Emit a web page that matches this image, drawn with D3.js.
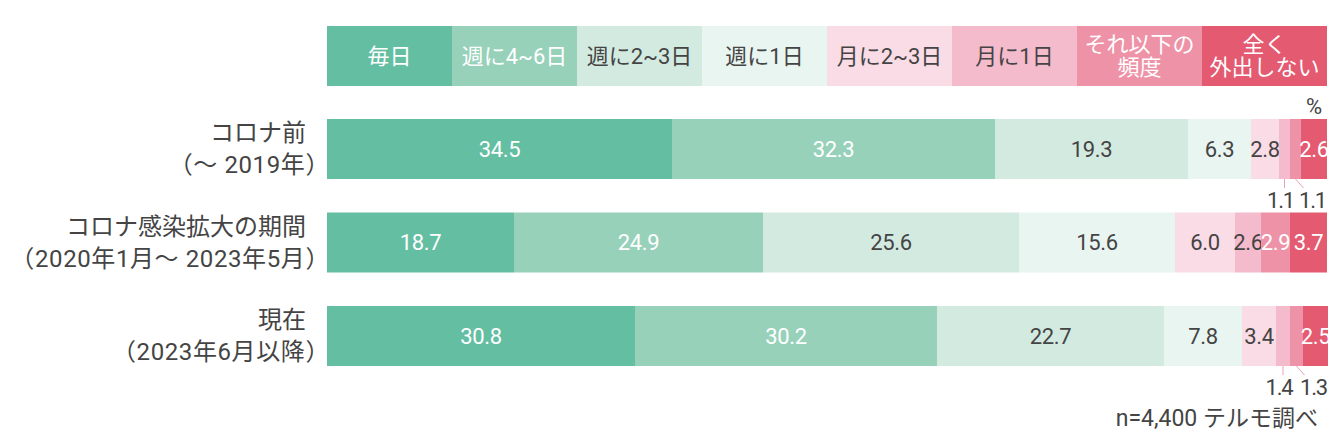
<!DOCTYPE html>
<html>
<head>
<meta charset="utf-8">
<script src="https://cdn.jsdelivr.net/npm/d3@7"></script>
<style>
  body { margin: 0; background: #fff; }
  text { font-family: Roboto, "Noto Sans CJK JP", sans-serif; }
</style>
</head>
<body>
<svg></svg>
<script>
var width = 1340;
var height = 442;

// legend / frequency categories
var freqLabels = [["毎日"], ["週に4~6日"], ["週に2~3日"], ["週に1日"],
                  ["月に2~3日"], ["月に1日"], ["それ以下の", "頻度"], ["全く", "外出しない"]];
var freqColors = ["#64bea2", "#97d1ba", "#d3eae1", "#e9f5f0",
                  "#fadce6", "#f4bbcd", "#ee93a7", "#e35a71"];
var whiteText = [true, true, false, false, false, false, true, true];

// periods (rows)
var periodLabels = [["コロナ前", "（〜 2019年）"],
                    ["コロナ感染拡大の期間", "（2020年1月〜 2023年5月）"],
                    ["現在", "（2023年6月以降）"]];
var values = [
  [34.5, 32.3, 19.3, 6.3, 2.8, 1.1, 1.1, 2.6],
  [18.7, 24.9, 25.6, 15.6, 6.0, 2.6, 2.9, 3.7],
  [30.8, 30.2, 22.7, 7.8, 3.4, 1.4, 1.3, 2.5]
];

var svg = d3.select('svg')
    .attr("width", width)
    .attr("height", height)
    .append('g');

var x = d3.scaleLinear().domain([0, 100]).range([327, 1327]);
var y = d3.scaleBand()
    .domain(d3.range(values.length))
    .range([119, 366])
    .paddingInner(33.5 / 93.5);
var legX = d3.scaleBand()
    .domain(d3.range(freqLabels.length))
    .range([327, 1327]);

// legend
var leg = svg.append('g').selectAll('g')
    .data(freqLabels)
    .join('g');
leg.append('rect')
    .attr("x", (d, i) => legX(i))
    .attr("y", 26)
    .attr("width", legX.bandwidth())
    .attr("height", 60)
    .attr("fill", (d, i) => freqColors[i]);
leg.each(function(lines, i) {
    var g = d3.select(this);
    lines.forEach(function(t, j) {
        g.append('text')
            .attr("x", legX(i) + legX.bandwidth() / 2)
            .attr("y", 56 + (j - (lines.length - 1) / 2) * 23)
            .attr("dy", "0.35em")
            .attr("text-anchor", "middle")
            .attr("font-size", 22)
            .attr("fill", whiteText[i] ? "#fff" : "#444")
            .text(t);
    });
});

svg.append('text')
    .attr("x", 1322)
    .attr("y", 106)
    .attr("dy", "0.35em")
    .attr("text-anchor", "end")
    .attr("font-size", 22)
    .attr("fill", "#444")
    .text("%");

// row labels
periodLabels.forEach(function(lines, r) {
    lines.forEach(function(t, j) {
        svg.append('text')
            .attr("x", j == 0 ? 306 : 330)
            .attr("y", y(r) + y.bandwidth() / 2 + (j - 0.5) * 32)
            .attr("dy", "0.35em")
            .attr("text-anchor", "end")
            .attr("font-size", 24)
            .attr("letter-spacing", j == 0 ? 0 : 0.6)
            .attr("fill", "#444")
            .text(t);
    });
});

// bars
values.forEach(function(row, r) {
    var cum = 0;
    var outside = 0;
    var g = svg.append('g');
    row.forEach(function(v, i) {
        var x0 = x(cum), x1 = x(cum + v);
        cum += v;
        g.append('rect')
            .attr("x", x0)
            .attr("y", y(r))
            .attr("width", x1 - x0)
            .attr("height", y.bandwidth())
            .attr("fill", freqColors[i]);
        var cx = (x0 + x1) / 2;
        if (v >= 2) {
            g.append('text')
                .attr("x", cx)
                .attr("y", y(r) + y.bandwidth() / 2)
                .attr("dy", "0.35em")
                .attr("text-anchor", "middle")
                .attr("font-size", 22)
                .attr("letter-spacing", -0.3)
                .attr("fill", whiteText[i] ? "#fff" : "#444")
                .text(v.toFixed(1));
        } else {
            // small values go under the bar with a leader line
            var yb = y(r) + y.bandwidth();
            var dx = outside == 0 ? 0 : 8;
            var lx = outside == 0 ? cx - 4 : cx + 17;
            g.append('line')
                .attr("x1", cx).attr("y1", yb)
                .attr("x2", cx + dx).attr("y2", yb + 9)
                .attr("stroke", "#e8a3b4")
                .attr("stroke-width", 1);
            g.append('text')
                .attr("x", lx)
                .attr("y", yb + 21)
                .attr("dy", "0.35em")
                .attr("text-anchor", "middle")
                .attr("font-size", 22)
                .attr("letter-spacing", -1.2)
                .attr("fill", "#444")
                .text(v.toFixed(1));
            outside++;
        }
    });
});

svg.append('text')
    .attr("x", 1318)
    .attr("y", 418)
    .attr("dy", "0.35em")
    .attr("text-anchor", "end")
    .attr("font-size", 23)
    .attr("fill", "#444")
    .text("n=4,400 テルモ調べ");
</script>
</body>
</html>
